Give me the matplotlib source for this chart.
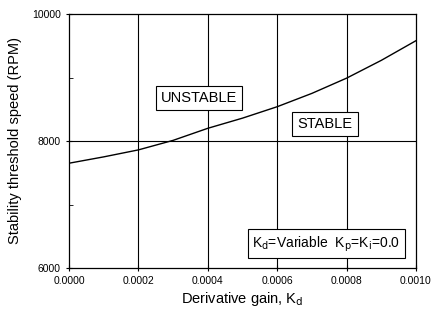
import matplotlib
matplotlib.use("Agg")
import matplotlib.pyplot as plt
import numpy as np

# derivative gain vs stability threshold speed
kd = [0.0, 0.0001, 0.0002, 0.0003, 0.0004, 0.0005, 0.0006, 0.0007, 0.0008, 0.0009, 0.0010]
speed = [7650, 7750, 7860, 8010, 8200, 8360, 8540, 8750, 8990, 9270, 9580]

xticks = [0.0, 0.0002, 0.0004, 0.0006, 0.0008, 0.0010]
xticklabels = ["0.0000", "0.0002", "0.0004", "0.0006", "0.0008", "0.0010"]
yticks = [6000, 8000, 10000]

plt.rcParams['font.family'] = ['Liberation Sans', 'DejaVu Sans']

fig = plt.figure(figsize=(4.32, 3.13), dpi=100)
ax = fig.add_axes([69/432, 1 - 268/313, (416-69)/432, (268-14)/313])

ax.plot(kd, speed, 'k-', lw=1.0)

for xv in xticks[1:-1]:
    ax.axvline(xv, color='k', lw=0.8)
ax.axhline(8000, color='k', lw=0.8)

ax.set_xlim(0, 0.001)
ax.set_ylim(6000, 10000)
ax.set_xticks(xticks)
ax.set_xticklabels(xticklabels)
ax.set_yticks(yticks)
ax.set_yticks([7000, 9000], minor=True)
ax.tick_params(axis='both', labelsize=7.5, direction='inout', length=5, width=0.8)
ax.tick_params(axis='y', which='minor', direction='in', length=3)
for s in ax.spines.values():
    s.set_linewidth(0.9)

ax.set_xlabel(r"Derivative gain, K$_\mathrm{d}$", fontsize=10.5, labelpad=3)
ax.set_ylabel("Stability threshold speed (RPM)", fontsize=10.5, labelpad=7)

box = dict(boxstyle='square,pad=0.35', fc='white', ec='k', lw=0.8)
ax.text(0.000375, 8680, "UNSTABLE", fontsize=10.5, ha='center', va='center', bbox=box)
ax.text(0.000738, 8270, "STABLE", fontsize=10.5, ha='center', va='center', bbox=box)
ax.text(0.000742, 6380, r"K$_\mathrm{d}$=Variable  K$_\mathrm{p}$=K$_\mathrm{i}$=0.0",
        fontsize=10, ha='center', va='center', bbox=box)

fig.savefig("out.png", dpi=100)
